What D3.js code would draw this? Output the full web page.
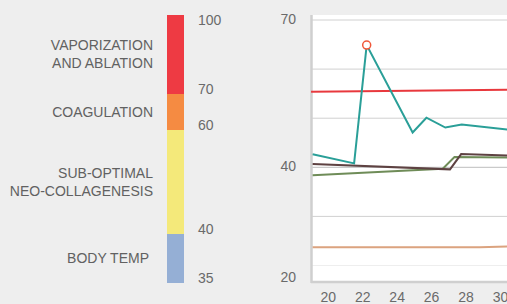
<!DOCTYPE html>
<html>
<head>
<meta charset="utf-8">
<script src="https://cdn.jsdelivr.net/npm/d3@7"></script>
<style>
  body { margin: 0; background: #eeeeee; }
  svg { display: block; font-family: "Liberation Sans", Arial, sans-serif; }
  .lbl { fill: #616161; font-size: 14px; }
  .num { fill: #6a6a6a; font-size: 14px; }
</style>
</head>
<body>
<svg id="chart" width="507" height="304"></svg>
<script>
// legend (temperature zones)
const zoneStops = [35, 40, 60, 70, 100];
const zoneStopPos = [283, 234, 130, 94, 15]; // zone bar is not linear
const zoneNames = [["BODY TEMP"], ["SUB-OPTIMAL", "NEO-COLLAGENESIS"], ["COAGULATION"], ["VAPORIZATION", "AND ABLATION"]];
const zoneColors = ["#95afd5", "#f4e97a", "#f58b42", "#ee3a43"];

// line chart
const xTicks = [20, 22, 24, 26, 28, 30];
const yTicks = [70, 40, 20];
const gridValues = [70, 60, 50, 40, 30, 20];
const threshold = [[19, 55.4], [31, 55.8]];
const tealX = [19.09, 21.5, 22.23, 24.9, 25.7, 26.8, 27.75, 30.4];
const tealY = [42.65, 40.8, 64.9, 47.1, 50.1, 48.1, 48.7, 47.7];
const brownX = [19.09, 27.07, 27.72, 30.4];
const brownY = [40.67, 39.58, 42.7, 42.4];
const greenX = [19.09, 26.65, 27.33, 30.4];
const greenY = [38.4, 39.7, 42.1, 42.0];
const tanX = [19.09, 28.8, 30.4];
const tanY = [23.7, 23.7, 23.85];
const peak = [22.23, 64.9];

const svg = d3.select("#chart");

// ---- zone legend
const zScale = d3.scaleLinear().domain(zoneStops).range(zoneStopPos);
const barX = 167, barW = 17;

svg.selectAll(".zone")
  .data(zoneColors)
  .join("rect")
    .attr("class", "zone")
    .attr("x", barX)
    .attr("width", barW)
    .attr("y", (c, i) => zScale(zoneStops[i + 1]))
    .attr("height", (c, i) => zScale(zoneStops[i]) - zScale(zoneStops[i + 1]))
    .attr("fill", c => c);

svg.selectAll(".znum")
  .data(zoneStops)
  .join("text")
    .attr("class", "num")
    .attr("x", 198)
    .attr("y", v => Math.max(zScale(v) - 5, 20))
    .attr("dy", "0.35em")
    .text(v => v);

zoneNames.forEach((lines, i) => {
  const mid = (zScale(zoneStops[i]) + zScale(zoneStops[i + 1])) / 2;
  const t = svg.append("text").attr("class", "lbl").attr("text-anchor", "end");
  lines.forEach((ln, j) => {
    t.append("tspan")
      .attr("x", i === 0 ? 149 : 153)
      .attr("y", mid + (j - (lines.length - 1) / 2) * 18)
      .attr("dy", "0.35em")
      .text(ln);
  });
});

// ---- line chart
const plot = {left: 311, right: 520, top: 15, bottom: 282};
const x = d3.scaleLinear().domain([20, 28]).range([328.3, 466]);
const y = d3.scaleLinear().domain([70, 40]).range([20, 167.3]);

svg.append("rect")
  .attr("x", plot.left).attr("y", plot.top)
  .attr("width", plot.right - plot.left).attr("height", plot.bottom - plot.top)
  .attr("fill", "#fff");

svg.append("g")
  .selectAll("line")
  .data(gridValues)
  .join("line")
    .attr("x1", plot.left).attr("x2", plot.right)
    .attr("y1", d => y(d)).attr("y2", d => y(d))
    .attr("stroke", d => d === 20 ? "#eeeeee" : d === 40 ? "#bdbdbd" : "#d0d0d0")
    .attr("stroke-width", 1);

// axes
svg.append("line")
  .attr("x1", plot.left + 0.5).attr("x2", plot.left + 0.5)
  .attr("y1", plot.top).attr("y2", plot.bottom + 1)
  .attr("stroke", "#cfcfcf").attr("stroke-width", 2.5);
svg.append("line")
  .attr("x1", plot.left).attr("x2", plot.right)
  .attr("y1", plot.bottom).attr("y2", plot.bottom)
  .attr("stroke", "#cfcfcf").attr("stroke-width", 2.5);

svg.selectAll(".ynum")
  .data(yTicks)
  .join("text")
    .attr("class", "num")
    .attr("text-anchor", "end")
    .attr("x", 296)
    .attr("y", v => v === 20 ? plot.bottom - 5 : y(v) - 1)
    .attr("dy", "0.35em")
    .text(v => v);

svg.selectAll(".xnum")
  .data(xTicks)
  .join("text")
    .attr("class", "num")
    .attr("text-anchor", "middle")
    .attr("x", v => x(v))
    .attr("y", 302)
    .text(v => v);

const line = d3.line().x(d => x(d[0])).y(d => y(d[1]));
const zip = (xs, ys) => xs.map((v, i) => [v, ys[i]]);

const series = [
  {pts: zip(tanX, tanY), color: "#dba37f"},
  {pts: zip(greenX, greenY), color: "#6f8c58"},
  {pts: zip(brownX, brownY), color: "#5e4242"},
  {pts: threshold, color: "#e8383d"},
  {pts: zip(tealX, tealY), color: "#2a9f98"}
];

svg.selectAll(".series")
  .data(series)
  .join("path")
    .attr("class", "series")
    .attr("d", s => line(s.pts))
    .attr("fill", "none")
    .attr("stroke", s => s.color)
    .attr("stroke-width", 2);

svg.append("circle")
  .attr("cx", x(peak[0])).attr("cy", y(peak[1]))
  .attr("r", 4)
  .attr("fill", "#fff")
  .attr("stroke", "#f0583a")
  .attr("stroke-width", 1.5);
</script>
</body>
</html>
